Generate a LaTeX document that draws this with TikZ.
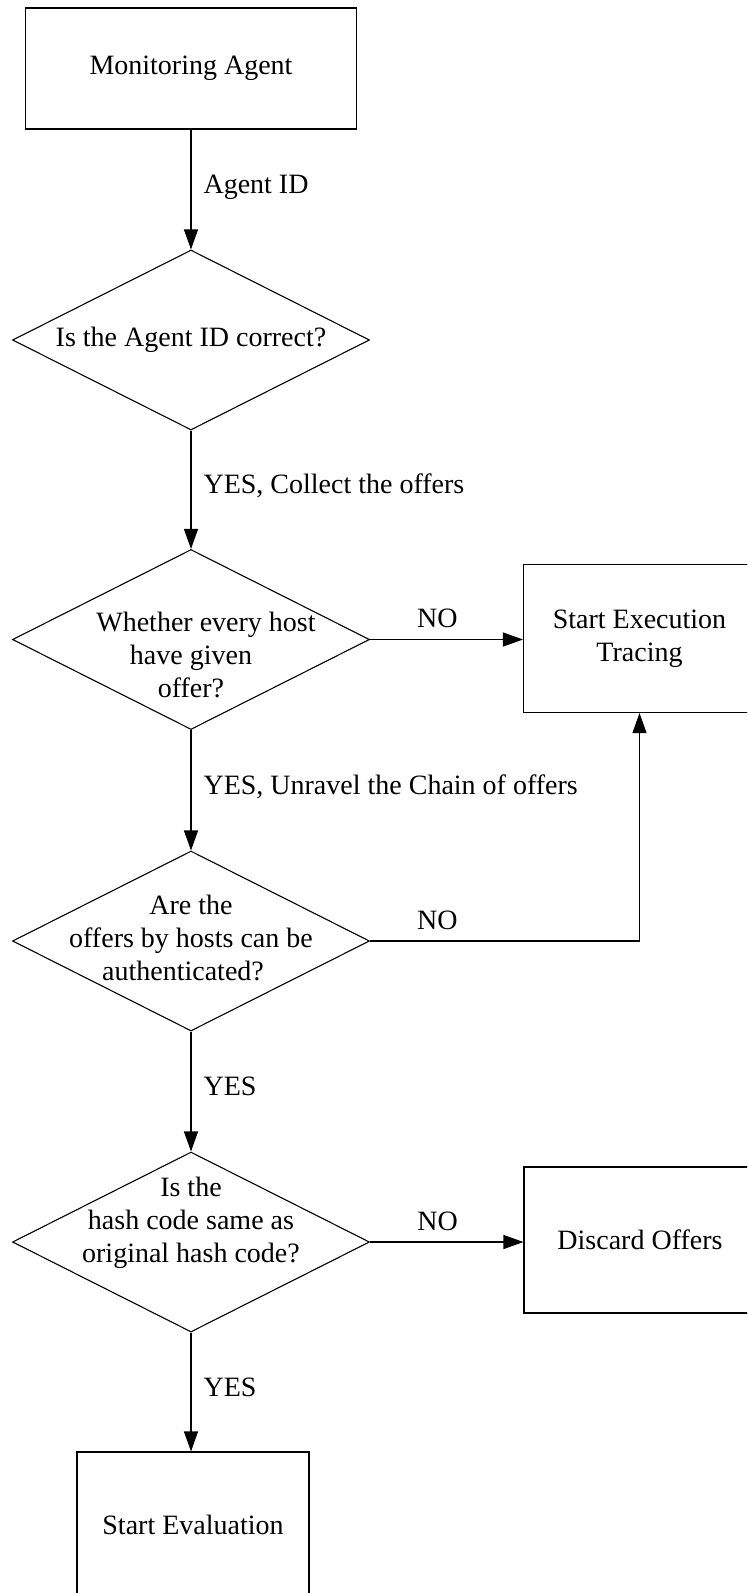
\documentclass[tikz,border=0pt]{standalone}
\usepackage{fontspec}
\setmainfont{Liberation Serif}
\usetikzlibrary{shapes.geometric,arrows.meta}

\begin{document}
\begin{tikzpicture}[x=1pt,y=-1pt,
  every node/.style={font=\fontsize{28}{33}\selectfont},
  flowline/.style={line width=1.1pt},
  arr/.style={flowline,-{Triangle[length=20pt,width=14pt]}},
  procbox/.style={draw,line width=1.1pt,rectangle,minimum width=232pt,
    minimum height=148pt,inner sep=0pt,align=center},
  decision/.style={draw,line width=1.1pt,diamond,minimum width=357pt,
    minimum height=180pt,inner sep=0pt},
  dtext/.style={align=center,inner sep=0pt},
  vlabel/.style={anchor=base west,inner sep=0pt,xshift=12pt,yshift=-4pt},
  nolabel/.style={anchor=base,inner sep=0pt,yshift=12pt}]

% page area
\fill[white] (0,0) rectangle (747,1593);
\clip (0,0) rectangle (747,1593);

% process boxes
\node[procbox,minimum width=331pt,minimum height=121pt] (ma) at (191,68.5) {Monitoring Agent};
\node[procbox] (tr) at (639.5,638.5) {Start Execution\\Tracing};
\node[procbox,minimum height=146pt] (disc) at (640,1240) {Discard Offers};
\node[procbox,minimum height=146pt] (eval) at (193,1525) {Start Evaluation};

% decisions
\node[decision] (d1) at (191,340) {};
\node[decision] (d2) at (191,639.5) {};
\node[decision] (d3) at (191,941) {};
\node[decision] (d4) at (191,1242) {};

\node[dtext] (d1t) at (d1.center) {Is the Agent ID correct?};
\node[dtext,yshift=-15pt] (d2t) at (d2.center) {\hspace*{30pt}Whether every host\\have given\\offer?};
\node[dtext,yshift=3pt] (d3t) at (d3.center) {Are the\\offers by hosts can be\hspace*{30pt}\\authenticated?\hspace*{16pt}};
\node[dtext,yshift=19pt] (d4t) at (d4.center) {Is the\\hash code same as\\original hash code?};

% connectors
\draw[arr] (ma.south) -- node[vlabel] {Agent ID} (d1.north);
\draw[arr] (d1.south) -- node[vlabel] {YES, Collect the offers} (d2.north);
\draw[arr] (d2.east) -- node[nolabel,pos=0.44] {NO} (d2.east -| tr.west);
\draw[arr] (d2.south) -- node[vlabel] {YES, Unravel the Chain of offers} (d3.north);
\coordinate (bend) at (d3.east -| tr.south);
\draw[arr] (d3.east) -- node[nolabel,pos=0.25] {NO} (bend) -- (tr.south);
\draw[arr] (d3.south) -- node[vlabel] {YES} (d4.north);
\draw[arr] (d4.east) -- node[nolabel,pos=0.44] {NO} (d4.east -| disc.west);
\draw[arr] (d4.south) -- node[vlabel] {YES} (d4.south |- eval.north);
\end{tikzpicture}
\end{document}
